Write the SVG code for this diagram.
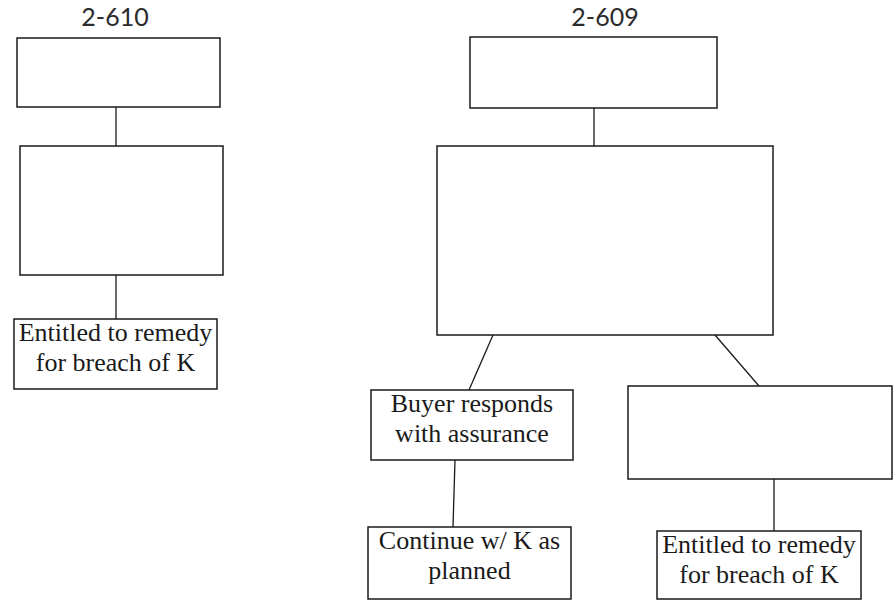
<svg xmlns="http://www.w3.org/2000/svg" width="894" height="600" viewBox="0 0 894 600">
  <style>
    .box { fill: #fff; stroke: #1a1a1a; stroke-width: 1.5; }
    .conn { stroke: #1a1a1a; stroke-width: 1.3; fill: none; }
    .title { font-family: Lato, sans-serif; font-size: 25px; fill: #2b2b2b; text-anchor: middle; }
    .label { font-family: 'Liberation Serif', serif; font-size: 26px; fill: #1a1a1a; text-anchor: middle; }
  </style>
  <rect width="894" height="600" fill="#fff"/>

  <!-- section headings -->
  <text class="title" x="115" y="26">2-610</text>
  <text class="title" x="605" y="26">2-609</text>

  <!-- connectors -->
  <g id="connectors">
    <line class="conn" x1="116" y1="107" x2="116" y2="146"/>
    <line class="conn" x1="116" y1="275" x2="116" y2="319"/>
    <line class="conn" x1="594" y1="108" x2="594" y2="146"/>
    <line class="conn" x1="493" y1="335" x2="469" y2="390"/>
    <line class="conn" x1="715" y1="335" x2="759" y2="386"/>
    <line class="conn" x1="455" y1="460" x2="453" y2="527"/>
    <line class="conn" x1="774" y1="479" x2="774" y2="531"/>
  </g>

  <!-- 2-610 branch -->
  <g id="n610-top"><rect class="box" x="17" y="38" width="203" height="69"/></g>
  <g id="n610-mid"><rect class="box" x="20" y="146" width="203" height="129"/></g>
  <g id="n610-remedy">
    <rect class="box" x="14" y="319" width="203" height="70"/>
    <text class="label" font-family="Liberation Serif, serif" x="115.5" y="341">Entitled to remedy</text>
    <text class="label" font-family="Liberation Serif, serif" x="115.5" y="371">for breach of K</text>
  </g>

  <!-- 2-609 branch -->
  <g id="n609-top"><rect class="box" x="470" y="37" width="247" height="71"/></g>
  <g id="n609-mid"><rect class="box" x="437" y="146" width="336" height="189"/></g>
  <g id="n609-assurance">
    <rect class="box" x="371" y="390" width="202" height="70"/>
    <text class="label" x="472" y="412">Buyer responds</text>
    <text class="label" x="472" y="442">with assurance</text>
  </g>
  <g id="n609-no-assurance"><rect class="box" x="628" y="386" width="264" height="93"/></g>
  <g id="n609-continue">
    <rect class="box" x="368" y="527" width="203" height="72"/>
    <text class="label" x="469.5" y="549">Continue w/ K as</text>
    <text class="label" x="469.5" y="579">planned</text>
  </g>
  <g id="n609-remedy">
    <rect class="box" x="657" y="531" width="204" height="68"/>
    <text class="label" x="759" y="553">Entitled to remedy</text>
    <text class="label" x="759" y="583">for breach of K</text>
  </g>
</svg>
